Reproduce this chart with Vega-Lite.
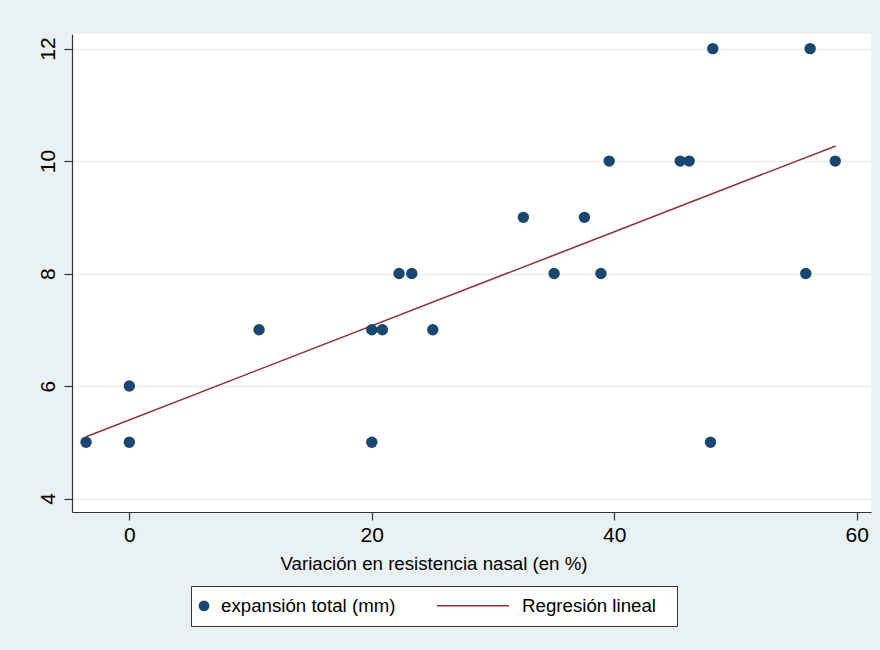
{
  "$schema": "https://vega.github.io/schema/vega-lite/v6.json",
  "width": 799,
  "height": 478,
  "autosize": {"type": "none"},
  "padding": {"left": 72, "top": 34, "right": 9, "bottom": 138},
  "background": "#eaf1f3",
  "config": {
    "view": {"fill": "white", "stroke": null},
    "font": "Liberation Sans",
    "axis": {
      "domainColor": "#333333",
      "domainWidth": 1.2,
      "tickColor": "#333333",
      "tickWidth": 1.2,
      "tickSize": 8,
      "labelColor": "black",
      "labelFont": "Liberation Sans",
      "labelFontSize": 21,
      "titleFont": "Liberation Sans",
      "titleFontWeight": "normal",
      "titleColor": "black",
      "gridColor": "#e9eff1",
      "gridWidth": 1.5
    }
  },
  "datasets": {
    "pts": [
      {"x": -3.57, "y": 5, "series": "expansión total (mm)"},
      {"x": 0, "y": 5, "series": "expansión total (mm)"},
      {"x": 0, "y": 6, "series": "expansión total (mm)"},
      {"x": 10.7, "y": 7, "series": "expansión total (mm)"},
      {"x": 20.0, "y": 7, "series": "expansión total (mm)"},
      {"x": 20.87, "y": 7, "series": "expansión total (mm)"},
      {"x": 25.03, "y": 7, "series": "expansión total (mm)"},
      {"x": 20.0, "y": 5, "series": "expansión total (mm)"},
      {"x": 22.25, "y": 8, "series": "expansión total (mm)"},
      {"x": 23.3, "y": 8, "series": "expansión total (mm)"},
      {"x": 32.5, "y": 9, "series": "expansión total (mm)"},
      {"x": 37.54, "y": 9, "series": "expansión total (mm)"},
      {"x": 35.04, "y": 8, "series": "expansión total (mm)"},
      {"x": 38.9, "y": 8, "series": "expansión total (mm)"},
      {"x": 39.58, "y": 10, "series": "expansión total (mm)"},
      {"x": 45.44, "y": 10, "series": "expansión total (mm)"},
      {"x": 46.18, "y": 10, "series": "expansión total (mm)"},
      {"x": 48.13, "y": 12, "series": "expansión total (mm)"},
      {"x": 56.16, "y": 12, "series": "expansión total (mm)"},
      {"x": 58.23, "y": 10, "series": "expansión total (mm)"},
      {"x": 55.8, "y": 8, "series": "expansión total (mm)"},
      {"x": 47.94, "y": 5, "series": "expansión total (mm)"}
    ],
    "fit": [
      {"x": -3.57, "y": 5.10, "series": "Regresión lineal"},
      {"x": 58.27, "y": 10.27, "series": "Regresión lineal"}
    ]
  },
  "layer": [
    {
      "data": {"name": "fit"},
      "mark": {"type": "line", "strokeWidth": 1.6, "clip": true},
      "encoding": {
        "x": {"field": "x", "type": "quantitative"},
        "y": {"field": "y", "type": "quantitative"},
        "color": {"field": "series", "type": "nominal"}
      }
    },
    {
      "data": {"name": "pts"},
      "mark": {"type": "point", "filled": true, "opacity": 1, "size": 130},
      "encoding": {
        "x": {
          "field": "x",
          "type": "quantitative",
          "scale": {"domain": [-4.73, 61.18], "nice": false, "zero": false},
          "axis": {
            "values": [0, 20, 40, 60],
            "grid": false,
            "labelPadding": 4,
            "title": "Variación en resistencia nasal (en %)",
            "titleFontSize": 18.7,
            "titleBaseline": "alphabetic",
            "titleAnchor": "start",
            "titleAlign": "center",
            "titleX": 361.5,
            "titleY": 57.5
          }
        },
        "y": {
          "field": "y",
          "type": "quantitative",
          "scale": {"domain": [3.76, 12.26], "nice": false, "zero": false},
          "axis": {
            "values": [4, 6, 8, 10, 12],
            "grid": true,
            "title": null,
            "labelAngle": -90,
            "labelAlign": "center",
            "labelBaseline": "alphabetic",
            "labelPadding": 10
          }
        },
        "color": {
          "field": "series",
          "type": "nominal",
          "scale": {
            "domain": ["expansión total (mm)", "Regresión lineal"],
            "range": ["#1a476f", "#90353b"]
          },
          "legend": {
            "orient": "none",
            "legendX": 119,
            "legendY": 552,
            "direction": "horizontal",
            "columns": 2,
            "title": " ",
            "titleOrient": "right",
            "titlePadding": 11,
            "titleFontSize": 18.7,
            "fillColor": "white",
            "strokeColor": "#333333",
            "padding": 10,
            "columnPadding": 37,
            "labelFontSize": 18.7,
            "labelLimit": 400,
            "labelColor": "black",
            "labelFont": "Liberation Sans",
            "symbolOpacity": 1,
            "encode": {
              "symbols": {
                "update": {
                  "shape": {"signal": "datum.value === 'Regresión lineal' ? 'stroke' : 'circle'"},
                  "size": {"signal": "datum.value === 'Regresión lineal' ? 5184 : 85"},
                  "x": {"signal": "datum.value === 'Regresión lineal' ? 36 : 3"},
                  "fill": {"signal": "datum.value === 'Regresión lineal' ? 'transparent' : scale('color', datum.value)"},
                  "stroke": {"signal": "datum.value === 'Regresión lineal' ? scale('color', datum.value) : 'transparent'"},
                  "strokeWidth": {"value": 1.6}
                }
              },
              "labels": {
                "update": {
                  "x": {"signal": "datum.value === 'Regresión lineal' ? 85 : 20"}
                }
              }
            }
          }
        }
      }
    }
  ]
}
